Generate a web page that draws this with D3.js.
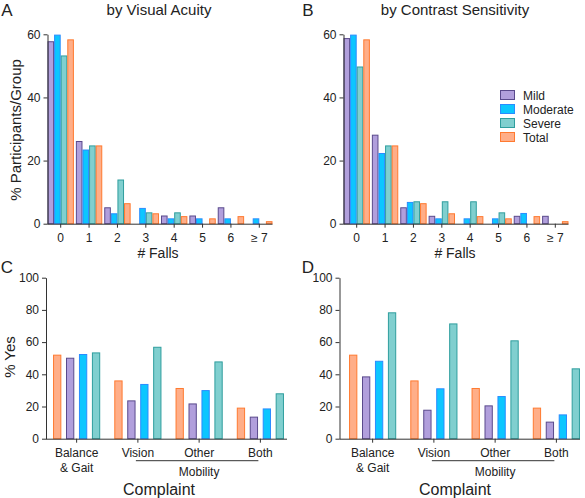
<!DOCTYPE html>
<html>
<head>
<meta charset="utf-8">
<script src="https://cdn.jsdelivr.net/npm/d3@7"></script>
<style>
  body { margin: 0; background: #fff; }
  svg { font-family: "Liberation Sans", Arial, sans-serif; }
  .axis path, .axis line { stroke: #333; }
  .axis text { font-size: 12px; fill: #222; }
</style>
</head>
<body>
<svg width="585" height="498"></svg>
<script>
// falls distributions (% participants / group)
const fallCats = ['0', '1', '2', '3', '4', '5', '6', '\u2265 7'];
const groups = ['Mild', 'Moderate', 'Severe', 'Total'];

const vaMild     = [57.8, 26.2, 5.2, 0,   2.6, 2.6, 5.2, 0];
const vaModerate = [59.9, 23.5, 3.3, 5.0, 1.7, 1.7, 1.7, 1.7];
const vaSevere   = [53.3, 24.8, 14.0, 3.6, 3.6, 0,  0,   0];
const vaTotal    = [58.4, 24.8, 6.5, 3.3, 2.4, 1.7, 2.4, 0.8];

const csMild     = [58.8, 28.2, 5.2, 2.5, 0,   0,   2.5, 2.5];
const csModerate = [59.9, 22.4, 6.9, 1.7, 1.7, 1.7, 3.4, 0];
const csSevere   = [49.8, 24.8, 7.1, 7.1, 7.1, 3.6, 0,   0];
const csTotal    = [58.4, 24.8, 6.5, 3.3, 2.4, 1.7, 2.4, 0.8];

// complaints (% yes)
const complaintCats = ['Balance & Gait', 'Vision', 'Other', 'Both'];
const complaintOrder = ['Total', 'Mild', 'Moderate', 'Severe'];

const cTotal    = [52.2, 36.2, 31.5, 19.3];
const cMild     = [50.3, 23.8, 21.9, 13.7];
const cModerate = [52.6, 34.0, 30.2, 18.8];
const cSevere   = [53.6, 57.1, 48.0, 28.2];

const dTotal    = [52.2, 36.2, 31.5, 19.3];
const dMild     = [38.7, 18.0, 20.7, 10.6];
const dModerate = [48.4, 31.3, 26.5, 15.1];
const dSevere   = [78.5, 71.6, 61.1, 43.7];

const fillC   = {Mild: '#b19fdc', Moderate: '#0cc6ff', Severe: '#80cfcf', Total: '#ffae88'};
const strokeC = {Mild: '#5a4a8c', Moderate: '#2a8cff', Severe: '#2f9e9e', Total: '#ff7a30'};

const svg = d3.select('svg');

function table(cats, series) {
    return cats.map((c, i) => {
        let row = {cat: c};
        for (let k in series) row[k] = series[k][i];
        return row;
    });
}

function drawPanel(opt) {
    let g = svg.append('g');
    let x = d3.scaleBand().domain(opt.cats).range(opt.xRange)
        .paddingInner(opt.padIn).paddingOuter(opt.padOut);
    let xi = d3.scaleBand().domain(opt.order).range([0, x.bandwidth()]).paddingInner(opt.innerPad);
    let y = d3.scaleLinear().domain([0, opt.yMax]).range(opt.yRange);

    let grp = g.selectAll('g.grp')
        .data(opt.rows)
        .enter().append('g')
        .attr('class', 'grp')
        .attr('transform', d => `translate(${x(d.cat)},0)`);

    grp.selectAll('rect')
        .data(d => opt.order.map(k => ({key: k, value: d[k]})).filter(e => e.value > 0))
        .enter().append('rect')
        .attr('x', d => xi(d.key) + 0.5)
        .attr('width', xi.bandwidth() - 1)
        .attr('y', d => y(d.value) + 0.5)
        .attr('height', d => Math.max(0, y(0) - y(d.value) - 0.5))
        .attr('fill', d => fillC[d.key])
        .attr('stroke', d => strokeC[d.key])
        .attr('stroke-width', 1);

    // y axis
    g.append('g').attr('class', 'axis')
        .attr('transform', `translate(${opt.axisX},0)`)
        .call(d3.axisLeft(y).tickValues(opt.yTicks).tickSize(4).tickPadding(3).tickSizeOuter(0));

    // x axis
    let xa = g.append('g').attr('class', 'axis')
        .attr('transform', `translate(0,${y(0)})`)
        .call(d3.axisBottom(x).tickSize(4).tickPadding(6).tickSizeOuter(0));
    xa.select('.domain').attr('d', `M${opt.axisX},0.5H${opt.axisEnd}`);
    return {g, x, y, xa};
}

// Panel A
drawPanel({
    cats: fallCats, order: groups,
    rows: table(fallCats, {Mild: vaMild, Moderate: vaModerate, Severe: vaSevere, Total: vaTotal}),
    xRange: [47.5, 272.5], padIn: 0.07, padOut: 0, innerPad: 0,
    yMax: 60, yRange: [223.7, 34.3], yTicks: [0, 20, 40, 60],
    axisX: 47.5, axisEnd: 272.5
});

// Panel B
drawPanel({
    cats: fallCats, order: groups,
    rows: table(fallCats, {Mild: csMild, Moderate: csModerate, Severe: csSevere, Total: csTotal}),
    xRange: [343.5, 568.5], padIn: 0.07, padOut: 0, innerPad: 0,
    yMax: 60, yRange: [223.7, 34.3], yTicks: [0, 20, 40, 60],
    axisX: 343.5, axisEnd: 568.5
});

function complaintPanel(opt) {
    let p = drawPanel(opt);
    // two-line first label
    p.xa.selectAll('.tick text').filter(d => d === 'Balance & Gait')
        .text(null)
        .call(t => {
            t.append('tspan').attr('x', 0).text('Balance');
            t.append('tspan').attr('x', 0).attr('dy', '1.2em').text('& Gait');
        });
    let xc = d => p.x(d) + p.x.bandwidth() / 2;
    p.g.append('line')
        .attr('x1', xc('Vision') - 2).attr('x2', xc('Both') - 2)
        .attr('y1', 460.7).attr('y2', 460.7)
        .attr('stroke', '#333');
    p.g.append('text')
        .attr('x', xc('Other')).attr('y', 475.5)
        .attr('text-anchor', 'middle').attr('font-size', 12).attr('fill', '#222')
        .text('Mobility');
}

complaintPanel({
    cats: complaintCats, order: complaintOrder,
    rows: table(complaintCats, {Total: cTotal, Mild: cMild, Moderate: cModerate, Severe: cSevere}),
    xRange: [46, 291], padIn: 0.23, padOut: 0.115, innerPad: 0.36,
    yMax: 100, yRange: [438.7, 277.7], yTicks: [0, 20, 40, 60, 80, 100],
    axisX: 46, axisEnd: 287
});

complaintPanel({
    cats: complaintCats, order: complaintOrder,
    rows: table(complaintCats, {Total: dTotal, Mild: dMild, Moderate: dModerate, Severe: dSevere}),
    xRange: [342, 587], padIn: 0.23, padOut: 0.115, innerPad: 0.36,
    yMax: 100, yRange: [438.7, 277.7], yTicks: [0, 20, 40, 60, 80, 100],
    axisX: 339.5, axisEnd: 580
});

// titles & labels
function label(x, y, s, size, rot) {
    let t = svg.append('text')
        .attr('x', x).attr('y', y)
        .attr('font-size', size).attr('fill', '#222')
        .attr('text-anchor', 'middle')
        .text(s);
    if (rot) t.attr('transform', `rotate(-90,${x},${y})`);
    return t;
}
label(159, 15, 'by Visual Acuity', 15);
label(455, 15, 'by Contrast Sensitivity', 15);
label(158, 258, '# Falls', 14);
label(455, 258, '# Falls', 14);
label(159, 495, 'Complaint', 16);
label(455, 495, 'Complaint', 16);
label(21, 130, '% Participants/Group', 15, true);
label(15, 357, '% Yes', 15, true);

label(7, 16, 'A', 17);
label(308, 16, 'B', 17);
label(7, 273, 'C', 17);
label(308, 273, 'D', 17);

// legend
let leg = svg.append('g').selectAll('g')
    .data(groups)
    .enter().append('g')
    .attr('transform', (d, i) => `translate(500,${95 + i * 14})`);
leg.append('rect')
    .attr('x', 0.5).attr('y', -4.5).attr('width', 14).attr('height', 9)
    .attr('fill', d => fillC[d]).attr('stroke', d => strokeC[d]);
leg.append('text')
    .attr('x', 23).attr('y', 4.5)
    .attr('font-size', 12).attr('fill', '#222')
    .text(d => d);
</script>
</body>
</html>
